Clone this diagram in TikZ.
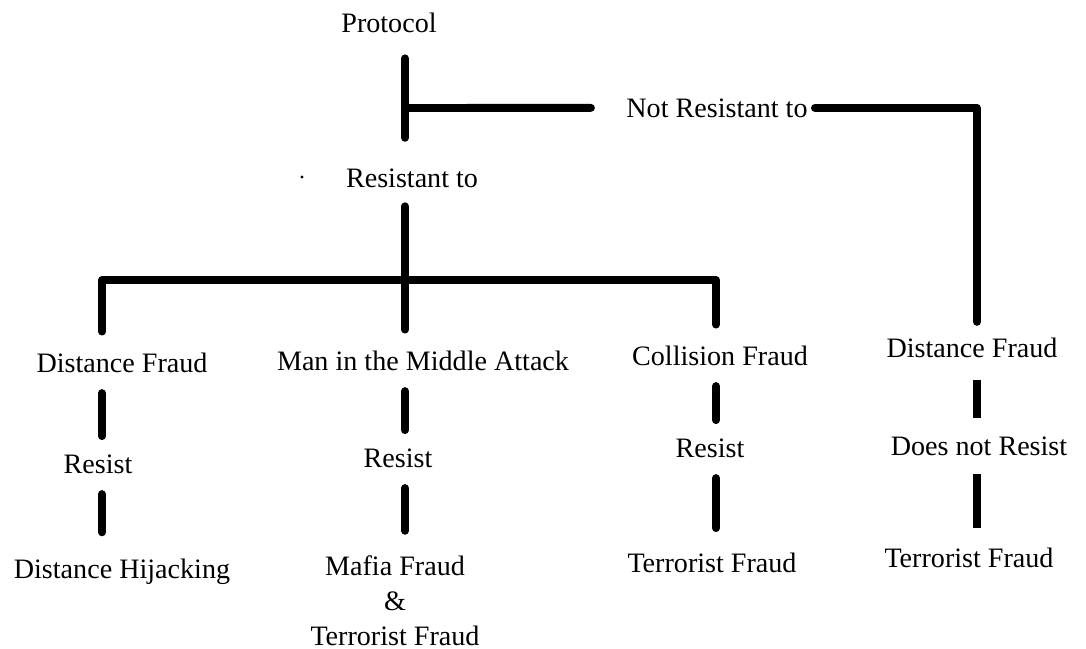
\documentclass[tikz,border=0pt]{standalone}
\usepackage{fontspec}
\setmainfont{Liberation Serif}
\usetikzlibrary{positioning}
\tikzset{
	lbl/.style={font=\fontsize{16pt}{19.8pt}\selectfont, inner sep=0pt, anchor=base},
	link/.style={line width=4.5pt, line cap=round, line join=round, shorten <=12pt, shorten >=21pt},
	flat/.style={line cap=butt},
}
\begin{document}
\begin{tikzpicture}[x=0.02cm, y=-0.02cm]
\useasboundingbox (0,0) rectangle (1086,649);

% columns of the tree
\coordinate (colA) at (102,0);
\coordinate (colB) at (405,0);
\coordinate (colC) at (716,0);
\coordinate (colD) at (977,0);
\coordinate (split) at (405,108);
\coordinate (bus) at (405,280);

\node[lbl] (proto) at (389,32) {Protocol};
\node[lbl] (notres) at (717,117) {Not Resistant to};
\node[lbl] (resto) at (412,187) {Resistant to};
\fill (302,177) circle (1.6);

\node[lbl] (dfL) at (122,372) {Distance Fraud};
\node[lbl] (mitm) at (423,370) {Man in the Middle Attack};
\node[lbl] (coll) at (720,365) {Collision Fraud};
\node[lbl] (dfR) at (972,357) {Distance Fraud};

\node[lbl] (resL) at (98,473) {Resist};
\node[lbl] (resM) at (398,467) {Resist};
\node[lbl] (resC) at (710,457) {Resist};
\node[lbl] (nresR) at (979,455) {Does not Resist};

\node[lbl] (dhL) at (122,578) {Distance Hijacking};
% base of a multi-line node is its last line
\node[lbl, align=center] (mafia) at (395,645) {Mafia Fraud\\\&\\Terrorist Fraud};
\node[lbl] (terrC) at (712,572) {Terrorist Fraud};
\node[lbl] (terrR) at (969,567) {Terrorist Fraud};

% top of the tree
\draw[link, shorten <=15pt, shorten >=28pt] (proto.base -| colB) -- (resto.base -| colB);
\draw[link, shorten <=0pt, shorten >=20pt] (split) -- (notres.west);
\draw[link, shorten <=4pt, shorten >=20pt] (notres.east) -| (dfR.base -| colD);
\draw[link, shorten <=11pt, shorten >=23pt] (resto.base -| colB) -- (mitm.base -| colB);
\draw[link, shorten <=23pt, shorten >=23pt] (dfL.base -| colA) |- (bus) -| (coll.base -| colC);

% resistant branches
\draw[link] (dfL.base -| colA) -- (resL.base -| colA);
\draw[link, shorten >=26pt] (resL.base -| colA) -- (dhL.base -| colA);
\draw[link] (mitm.base -| colB) -- (resM.base -| colB);
\draw[link, shorten >=65pt] (resM.base -| colB) -- (mafia.base -| colB);
\draw[link] (coll.base -| colC) -- (resC.base -| colC);
\draw[link, shorten >=25pt] (resC.base -| colC) -- (terrC.base -| colC);

% not resistant branch
\draw[link, flat, shorten <=13pt, shorten >=21pt] (dfR.base -| colD) -- (nresR.base -| colD);
\draw[link, flat, shorten <=11pt, shorten >=22pt] (nresR.base -| colD) -- (terrR.base -| colD);
\end{tikzpicture}
\end{document}
